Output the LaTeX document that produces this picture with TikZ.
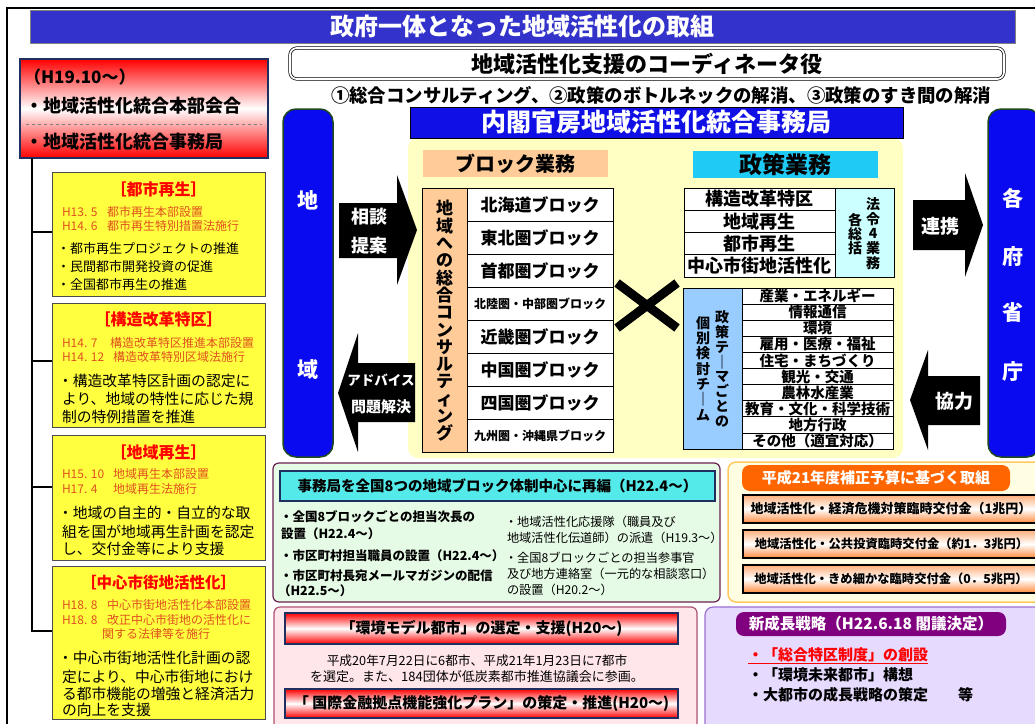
\documentclass[tikz,border=0pt]{standalone}
\usepackage{fontspec}
\setmainfont{Noto Sans CJK JP}
\newcommand{\fsz}[1]{\fontsize{#1pt}{#1pt}\selectfont}
\newcommand{\fszl}[2]{\fontsize{#1pt}{#2pt}\selectfont}
\definecolor{titleblue}{HTML}{3333CC}
\definecolor{pillarblue}{HTML}{0A0AF0}
\definecolor{pillarborder}{HTML}{1E4A1E}
\definecolor{naikaku}{HTML}{0F0FE6}
\definecolor{paleyellow}{HTML}{FFFFC4}
\definecolor{peach}{HTML}{FFCC99}
\definecolor{cyanhead}{HTML}{1FCBF5}
\definecolor{palecyan}{HTML}{CCFFFF}
\definecolor{lightblue}{HTML}{99CCFF}
\definecolor{boxyellow}{HTML}{FFFF40}
\definecolor{dateorange}{HTML}{E0501E}
\definecolor{greenfill}{HTML}{E6FBE6}
\definecolor{maroonb}{HTML}{6B2050}
\definecolor{tealhead}{HTML}{55EAEA}
\definecolor{pinkfill}{HTML}{FFE6EA}
\definecolor{pinkborder}{HTML}{B05070}
\definecolor{navyborder}{HTML}{1F2F5F}
\definecolor{creamfill}{HTML}{FFFDE2}
\definecolor{orangeborder}{HTML}{FFC860}
\definecolor{orangehead}{HTML}{FF6600}
\definecolor{barorange}{HTML}{FF8A3C}
\definecolor{lavender}{HTML}{E6DAFF}
\definecolor{lavborder}{HTML}{9A70D0}
\definecolor{purplehead}{HTML}{800080}
\begin{document}
\begin{tikzpicture}[x=1pt,y=-1pt,
  every node/.style={inner sep=0pt,outer sep=0pt},
  sz/.style 2 args={minimum width=#1pt,minimum height=#2pt},
  tree/.style={line width=2.5pt},
  whitebold/.style={text=white,font=\bfseries\fsz{#1}},
  datetxt/.style={anchor=west,text=dateorange,font=\fsz{12}},
  bodytxt/.style={anchor=west,font=\fsz{#1}},
  boldtxt/.style={anchor=west,font=\bfseries\fsz{#1}},
  ybox/.style={fill=boxyellow,draw=black!70,line width=0.8pt},
  ytitle/.style={text=red,font=\bfseries\fsz{#1}},
  redbar/.style={draw=navyborder,line width=1.5pt,top color=red,bottom color=red,middle color=white},
  orbar/.style={draw=black,line width=2pt,top color=barorange!70,bottom color=barorange,middle color=white},
  cell/.style={draw,fill=white,line width=0.8pt}
]
\useasboundingbox (0,0) rectangle (1035,723);
\fill[white] (0,0) rectangle (1035,723);
% frame
\draw[line width=2.5pt] (7,730) -- (7,8) -- (1040,8);
% title
\node[sz={985}{33},fill=titleblue,draw=black!50,whitebold=24] (title) at (522.5,26.5) {政府一体となった地域活性化の取組};
% coordinator
\node[sz={714}{31},draw,double=white,double distance=1.8pt,line width=0.7pt,rounded corners=7pt,font=\bfseries\fsz{22}] (coord) at (647,63.5) {地域活性化支援のコーディネータ役};
\node[font=\bfseries\fsz{18.4}] (missions) at (661,95) {①総合コンサルティング、②政策のボトルネックの解消、③政策のすき間の解消};
% H19 box
\node[sz={248}{99},redbar,line width=1.2pt] (h19) at (144,108.5) {};
\node[boldtxt=17] (h19date) at (24,77) {（H19.10～）};
\node[boldtxt=18] (honbu) at (25,106) {・地域活性化統合本部会合};
\draw[dashed,gray,line width=0.6pt] (26,124) -- (262,124);
\node[boldtxt=18] (jimu) at (25,142) {・地域活性化統合事務局};
% yellow boxes
\node[sz={213}{124},ybox] (b1) at (158.5,234) {};
\node[ytitle=16] (b1t) at (158.5,189) {［都市再生］};
\node[datetxt] (b1d1) at (62,212) {\makebox[45pt][l]{H13. 5}都市再生本部設置};
\node[datetxt] (b1d2) at (62,226) {\makebox[45pt][l]{H14. 6}都市再生特別措置法施行};
\node[bodytxt=13] (b1i1) at (57,249) {・都市再生プロジェクトの推進};
\node[bodytxt=13] (b1i2) at (57,267) {・民間都市開発投資の促進};
\node[bodytxt=13] (b1i3) at (57,285) {・全国都市再生の推進};

\node[sz={213}{124},ybox] (b2) at (158.5,365) {};
\node[ytitle=16] (b2t) at (158.5,319) {［構造改革特区］};
\node[datetxt] (b2d1) at (62,343) {\makebox[48pt][l]{H14. 7}構造改革特区推進本部設置};
\node[datetxt] (b2d2) at (62,357) {\makebox[51pt][l]{H14. 12}構造改革特別区域法施行};
\node[bodytxt=14.8] (b2i1) at (58,381) {・構造改革特区計画の認定に};
\node[bodytxt=14.8] (b2i2) at (62,399) {より、地域の特性に応じた規};
\node[bodytxt=14.8] (b2i3) at (62,417) {制の特例措置を推進};

\node[sz={213}{125},ybox] (b3) at (158.5,497.5) {};
\node[ytitle=16] (b3t) at (158.5,452) {［地域再生］};
\node[datetxt] (b3d1) at (62,474) {\makebox[51pt][l]{H15. 10}地域再生本部設置};
\node[datetxt] (b3d2) at (62,489) {\makebox[51pt][l]{H17. 4}地域再生法施行};
\node[bodytxt=14.8] (b3i1) at (58,513) {・地域の自主的・自立的な取};
\node[bodytxt=14.8] (b3i2) at (62,532) {組を国が地域再生計画を認定};
\node[bodytxt=14.8] (b3i3) at (62,549) {し、交付金等により支援};

\node[sz={213}{153},ybox] (b4) at (158.5,642.5) {};
\node[ytitle=15.5] (b4t) at (158.5,583) {［中心市街地活性化］};
\node[datetxt] (b4d1) at (62,605) {\makebox[45pt][l]{H18. 8}中心市街地活性化本部設置};
\node[datetxt] (b4d2) at (62,620) {\makebox[45pt][l]{H18. 8}改正中心市街地の活性化に};
\node[datetxt] (b4d3) at (102,634) {関する法律等を施行};
\node[bodytxt=14.8] (b4i1) at (58,658) {・中心市街地活性化計画の認};
\node[bodytxt=14.8] (b4i2) at (62,677) {定により、中心市街地におけ};
\node[bodytxt=14.8] (b4i3) at (62,694) {る都市機能の増強と経済活力};
\node[bodytxt=14.8] (b4i4) at (62,710) {の向上を支援};
% tree
\coordinate (trunk) at (32,158);
\draw[tree] (trunk) |- ([yshift=2pt]b1.west);
\draw[tree] (trunk) |- ([yshift=4pt]b2.west);
\draw[tree] (trunk) |- ([yshift=10.5pt]b3.west);
\draw[tree] (trunk) |- ([yshift=11.5pt]b4.west);
% central area
\node[sz={495}{320},fill=paleyellow,rounded corners=10pt] (area) at (655.5,298) {};
\node[sz={493}{31},fill=naikaku,draw=black,line width=0.8pt,whitebold=25] (naikakuhead) at (656.5,122.5) {内閣官房地域活性化統合事務局};
% pillars
\node[sz={50}{348},fill=pillarblue,draw=pillarborder,line width=1.5pt,rounded corners=13pt] (chiiki) at (308,283) {};
\node[whitebold=21] (chi) at (308,200) {地};
\node[whitebold=21] (iki) at (308,370) {域};
\node[sz={52}{348},fill=pillarblue,draw=pillarborder,line width=1.5pt,rounded corners=13pt] (fusho) at (1014,283) {};
\node[whitebold=21] (fu1) at (1013,198) {各};
\node[whitebold=21] (fu2) at (1013,257) {府};
\node[whitebold=21] (fu3) at (1013,313) {省};
\node[whitebold=21] (fu4) at (1013,372) {庁};
% headers
\node[sz={185}{27},fill=peach,font=\bfseries\fsz{20}] (blockhead) at (515.5,163.5) {ブロック業務};
\node[sz={185}{27},fill=cyanhead,font=\bfseries\fsz{23}] (seisakuhead) at (785.5,164.5) {政策業務};
% block table
\node[sz={45}{264},fill=peach,draw,line width=0.8pt] (blockcol) at (444.5,320) {};
\node[align=center,font=\bfseries\fszl{17}{17.3}] (blockv) at (444.5,321) {地\\域\\へ\\の\\総\\合\\コ\\ン\\サ\\ル\\テ\\ィ\\ン\\グ};
\foreach \i/\txt/\ff in {1/北海道ブロック/17,2/東北圏ブロック/17,3/首都圏ブロック/17,4/北陸圏・中部圏ブロック/12,5/近畿圏ブロック/17,6/中国圏ブロック/17,7/四国圏ブロック/17,8/九州圏・沖縄県ブロック/12}
  \node[sz={146}{33},cell,font=\bfseries\fsz{\ff}] (blk\i) at (540,{188+33*\i-16.5}) {\txt};
% policy table
\foreach \i/\txt in {1/構造改革特区,2/地域再生,3/都市再生,4/中心市街地活性化}
  \node[sz={151}{22.25},cell,font=\bfseries\fsz{18}] (pol\i) at (759.5,{188+22.25*\i-11.125}) {\txt};
\node[sz={59}{89},draw,fill=palecyan,line width=0.8pt] (hourei) at (864.5,232.5) {};
\node[align=center,font=\bfseries\fszl{14}{14.6}] (hourei1) at (873,233.5) {法\\令\\4\\業\\務};
\node[align=center,font=\bfseries\fszl{14}{14.2}] (hourei2) at (855,234) {各\\総\\括};
% theme table
\node[sz={59}{161},draw,fill=lightblue,line width=0.8pt] (themecol) at (712.5,368.5) {};
\node[align=center,font=\bfseries\fszl{14}{14.75}] (theme1) at (722,369) {政\\策\\テ\\｜\\マ\\ご\\と\\の};
\node[align=center,font=\bfseries\fszl{14}{15.3}] (theme2) at (703,368.5) {個\\別\\検\\討\\チ\\｜\\ム};
\foreach \i/\txt in {1/産業・エネルギー,2/情報通信,3/環境,4/雇用・医療・福祉,5/住宅・まちづくり,6/観光・交通,7/農林水産業,8/教育・文化・科学技術,9/地方行政,10/その他（適宜対応）}
  \node[sz={151}{16.1},cell,font=\bfseries\fsz{14.5}] (th\i) at (817.5,{288+16.1*\i-8.05}) {\txt};
% cross
\draw[line width=9pt] (617,283) -- (677,328) (677,283) -- (617,328);
% block arrows
\fill (339,203) -- (397,203) -- (397,175) -- (417,230) -- (397,285) -- (397,258) -- (339,258) -- cycle;
\node[whitebold=18] (soudan) at (369,217) {相談};
\node[whitebold=18] (teian) at (369,246) {提案};
\fill (415,363) -- (358,363) -- (358,333) -- (338,393) -- (358,452) -- (358,422) -- (415,422) -- cycle;
\node[whitebold=13.5] (advice) at (381,380) {アドバイス};
\node[whitebold=15] (mondai) at (381,407) {問題解決};
\fill (913,200) -- (965,200) -- (965,173) -- (983,225) -- (965,277) -- (965,250) -- (913,250) -- cycle;
\node[whitebold=19] (renkei) at (940,226) {連携};
\fill (980,376) -- (928,376) -- (928,350) -- (910,400) -- (928,450) -- (928,425) -- (980,425) -- cycle;
\node[whitebold=19] (kyouryoku) at (954,401) {協力};
% green box
\node[sz={447}{139},fill=greenfill,draw=maroonb,line width=1.2pt,rounded corners=6pt] (green) at (496.5,532.5) {};
\node[sz={435}{30},fill=tealhead,draw=navyborder,line width=1.5pt,font=\bfseries\fsz{14.5}] (greenhead) at (497.5,486) {事務局を全国8つの地域ブロック体制中心に再編（H22.4～）};
\node[boldtxt=12.5] (g1) at (280,517) {・全国8ブロックごとの担当次長の};
\node[boldtxt=12.5] (g2) at (281,534) {設置（H22.4～）};
\node[boldtxt=12.5] (g3) at (280,556) {・市区町村担当職員の設置（H22.4～）};
\node[boldtxt=12.5] (g4) at (280,576) {・市区町村長宛メールマガジンの配信};
\node[boldtxt=12.5] (g5) at (278,591) {（H22.5～）};
\node[bodytxt=12.2] (g6) at (505,522) {・地域活性化応援隊（職員及び};
\node[bodytxt=12.2] (g7) at (507,538) {地域活性化伝道師）の派遣（H19.3～）};
\node[bodytxt=12.2] (g8) at (505,558) {・全国8ブロックごとの担当参事官};
\node[bodytxt=12.2] (g9) at (507,574) {及び地方連絡室（一元的な相談窓口）};
\node[bodytxt=12.2] (g10) at (507,590) {の設置（H20.2～）};
% pink box
\node[sz={423}{125},fill=pinkfill,draw=pinkborder,line width=1.2pt,rounded corners=6pt] (pink) at (485.5,669.5) {};
\node[sz={393}{31},redbar,font=\bfseries\fsz{15}] (model) at (481.5,628.5) {「環境モデル都市」の選定・支援(H20～)};
\node[font=\fsz{12.7}] (p1) at (477,661) {平成20年7月22日に6都市、平成21年1月23日に7都市};
\node[font=\fsz{13}] (p2) at (477,677) {を選定。また、184団体が低炭素都市推進協議会に参画。};
\node[sz={393}{29},redbar,font=\bfseries\fsz{15}] (kokusai) at (481.5,703.5) {「 国際金融拠点機能強化プラン」の策定・推進(H20～)};
% orange box
\node[sz={317}{140},fill=creamfill,draw=orangeborder,line width=1.5pt,rounded corners=8pt] (hosei) at (886.5,532) {};
\node[sz={268}{26},fill=orangehead,rounded corners=8pt,whitebold=15] (hoseihead) at (876,478) {平成21年度補正予算に基づく取組};
\node[sz={297}{28},orbar] (bar1) at (891.5,509) {};
\node[font=\bfseries\fsz{13}] (bar1t) at (891,509) {地域活性化・経済危機対策臨時交付金（1兆円）};
\node[sz={297}{28},orbar] (bar2) at (891.5,544) {};
\node[font=\bfseries\fsz{12.3}] (bar2t) at (891.5,544) {地域活性化・公共投資臨時交付金（約1．3兆円）};
\node[sz={297}{28},orbar] (bar3) at (891.5,579) {};
\node[font=\bfseries\fsz{12.3}] (bar3t) at (891,579) {地域活性化・きめ細かな臨時交付金（0．5兆円）};
% purple box
\node[sz={340}{125},fill=lavender,draw=lavborder,line width=1.2pt,rounded corners=8pt] (seicho) at (875,669.5) {};
\node[sz={270}{24},fill=purplehead,rounded corners=8pt,whitebold=15.5] (seichohead) at (871,624) {新成長戦略（H22.6.18 閣議決定）};
\node[boldtxt=15,text=red] (s1) at (748,656) {\underline{・「総合特区制度」の創設}};
\node[boldtxt=15] (s2) at (748,675) {・「環境未来都市」構想};
\node[boldtxt=15] (s3) at (748,695) {・大都市の成長戦略の策定　　等};
\end{tikzpicture}
\end{document}
